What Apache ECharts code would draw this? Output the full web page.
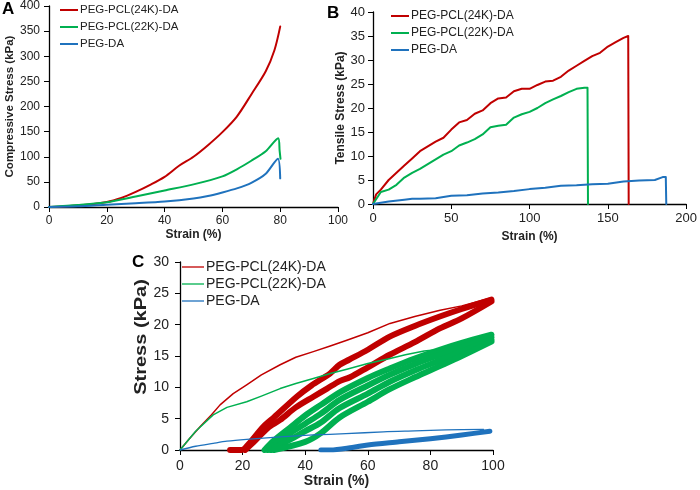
<!DOCTYPE html>
<html>
<head>
<meta charset="utf-8">
<script src="https://cdn.jsdelivr.net/npm/echarts@6/dist/echarts.min.js"></script>
<style>html,body{margin:0;padding:0;background:#fff;}#c{width:700px;height:490px;}</style>
</head>
<body>
<div id="c"></div>
<script>
// ---- Names ----
const names = ['PEG-PCL(24K)-DA', 'PEG-PCL(22K)-DA', 'PEG-DA'];
const colors = ['#C00000', '#00B050', '#1F72BD'];

// ---- Panel A: compressive stress (kPa) vs strain (%) ----
const aRed = [[0,0],[10,3],[20,10],[25,18],[30,30],[35,44],[40,60],[45,82],[50,100],[55,123],[60,149],[65,180],[70,224],[75,270],[78,312],[80,359]];
const aGreen = [[0,0],[10,4],[20,9.5],[30,21],[40,33],[50,45],[60,61],[65,75],[70,92],[75,111],[79.3,137],[79.8,112],[80.1,96]];
const aBlue = [[0,0],[10,1.5],[20,4.6],[30,7.5],[40,11],[50,17],[55,22],[60,29],[65,37],[70,48],[75,66],[79.2,96],[80,57]];

// ---- Panel B: tensile stress (kPa) vs strain (%) ----
const bRed = [[0,0],[2,2],[5,3],[10,5],[15,6.5],[20,8],[25,9.5],[30,11],[35,12],[40,13],[45,13.8],[50,15.5],[55,17],[60,17.5],[65,18.8],[70,19.5],[75,21],[80,22],[85,22.2],[90,23.5],[95,24],[100,24],[105,24.8],[110,25.5],[115,25.7],[120,26.5],[125,27.8],[130,28.8],[135,29.8],[140,30.8],[145,31.5],[150,32.8],[155,33.7],[160,34.6],[163,35],[163.3,0]];
const bGreen = [[0,0],[5,2.5],[10,3],[15,4],[20,5.5],[25,6.5],[30,7.3],[35,8.3],[40,9.3],[45,10.3],[50,11],[55,12.2],[60,12.8],[65,13.5],[70,14.5],[75,16],[80,16.3],[85,16.5],[90,18],[95,18.7],[100,19.2],[105,20],[110,21],[115,21.8],[120,22.5],[125,23.3],[130,24],[135,24.2],[137,24.2],[137.3,0]];
const bBlue = [[0,0],[10,0.5],[20,0.9],[25,1.1],[30,1.1],[40,1.2],[50,1.7],[60,1.8],[70,2.2],[80,2.4],[90,2.7],[100,3.1],[110,3.4],[120,3.8],[130,3.9],[140,4.1],[150,4.2],[160,4.7],[170,4.9],[180,5.0],[185,5.6],[187,5.6],[187.3,0]];

// ---- Panel C: cyclic stress (kPa) vs strain (%) ----
const cRedFirst = [[0,0],[3,1.8],[6.4,3.7],[10,5.6],[12.8,7.2],[17,9],[21.3,10.4],[26,12],[32,13.6],[37,14.8],[42.6,15.7],[48,16.6],[53.3,17.5],[60,18.7],[67.1,20.2],[75,21.3],[83.1,22.3],[90,23],[99,24.2]];
const cGreenFirst = [[0,0],[5,3],[10.6,5.6],[15,6.8],[21.3,7.7],[26,8.6],[32,9.8],[37,10.6],[42.6,11.4],[48,12.2],[53.3,12.9],[60,13.8],[67.1,14.6],[72,15.2],[78,15.8],[82,16]];
const cBlueFirst = [[0,0],[5,0.6],[10.6,1.06],[15,1.4],[21.3,1.7],[32,2.1],[42.6,2.4],[53,2.6],[65,2.9],[75,3.05],[85,3.2],[97,3.3]];
const cRedCycleUpper = [[16,0],[19.7,0],[22,1],[26.6,3.7],[30,5.2],[37.3,8.5],[42,10.3],[47.9,12.2],[51,13.6],[54,14.4],[60,16],[67,18.1],[75,19.8],[83,21.3],[90,22.5],[99.5,24]];
const cRedCycleLower = [[20.8,0],[24,1.5],[28,3.5],[32,4.8],[37,6.8],[42.6,8.5],[47,9.8],[51,11],[54.3,11.6],[60,13.2],[67,15.2],[75,17.2],[83,19.4],[90,21],[99.5,23.7]];
const cGreenCycle1 = [[27,0],[30,1.5],[35,3.5],[40,5.5],[45,7.2],[51,9.2],[60,11.5],[67,13],[75,14.6],[83,16],[90,17.1],[99.5,18.4]];
const cGreenCycle2 = [[28,0],[35,2.6],[40,4.2],[45,5.8],[51,8],[60,10.3],[67,12],[75,13.7],[83,15.2],[90,16.4],[99.5,18]];
const cGreenCycle3 = [[29,0],[35,1.6],[40,3],[45,4.4],[51,6.7],[60,9],[67,10.9],[75,12.7],[83,14.3],[90,15.7],[99.5,17.6]];
const cGreenCycle4 = [[30,0],[40,1.3],[45,2.7],[51,5.2],[60,7.7],[67,9.7],[75,11.6],[83,13.4],[90,15],[99.5,17.3]];
const cBlueCycle = [[45,0],[48,0],[55,0.4],[60,0.8],[70,1.3],[80,1.8],[90,2.4],[99,3]];

const FONT = 'Liberation Sans, Arial, sans-serif';

function ln(name, idx, data, color, width, smooth, z) {
  return {
    type: 'line', name: name, xAxisIndex: idx, yAxisIndex: idx, data: data,
    showSymbol: false, symbol: 'none', smooth: smooth, z: z || 2,
    lineStyle: { color: color, width: width, join: 'round', cap: 'round' },
    itemStyle: { color: color },
    emphasis: { disabled: true }
  };
}

function xAx(idx, min, max, interval, fs, nameFs, nameGap, labMargin) {
  return {
    type: 'value', gridIndex: idx, min: min, max: max, interval: interval,
    name: 'Strain (%)', nameLocation: 'middle', nameGap: nameGap,
    nameTextStyle: { fontFamily: FONT, fontWeight: 'bold', fontSize: nameFs, color: '#222' },
    axisLine: { show: true, onZero: false, lineStyle: { color: '#000', width: 1.3 } },
    axisTick: { show: true, inside: false, length: 5, lineStyle: { color: '#000' } },
    axisLabel: { fontFamily: FONT, fontSize: fs, color: '#222', margin: labMargin },
    splitLine: { show: false }
  };
}
function yAx(idx, min, max, interval, name, fs, nameFs, nameGap, labMargin) {
  return {
    type: 'value', gridIndex: idx, min: min, max: max, interval: interval,
    name: name, nameLocation: 'middle', nameGap: nameGap,
    nameTextStyle: { fontFamily: FONT, fontWeight: 'bold', fontSize: nameFs, color: '#222' },
    axisLine: { show: true, onZero: false, lineStyle: { color: '#000', width: 1.3 } },
    axisTick: { show: true, inside: false, length: 5, lineStyle: { color: '#000' } },
    axisLabel: { fontFamily: FONT, fontSize: fs, color: '#222', margin: labMargin },
    splitLine: { show: false }
  };
}
function legend(left, top, fs, gap, iw, ih) {
  return {
    orient: 'vertical', left: left, top: top, padding: 0,
    itemWidth: iw, itemHeight: ih, itemGap: gap, icon: 'rect',
    textStyle: { fontFamily: FONT, fontSize: fs, color: '#222', padding: [0, 0, 0, -3] },
    data: names.map((n, i) => ({ name: n, itemStyle: { color: colors[i] } })),
    selectedMode: false
  };
}

const series = [
  ln(names[0], 0, aRed, colors[0], 2, 0.3),
  ln(names[1], 0, aGreen, colors[1], 2, 0.25),
  ln(names[2], 0, aBlue, colors[2], 2, 0.25),
  ln(names[0], 1, bRed, colors[0], 2, false),
  ln(names[1], 1, bGreen, colors[1], 2, false),
  ln(names[2], 1, bBlue, colors[2], 2, false),
  ln(names[0], 2, cRedCycleUpper, colors[0], 6, 0.3, 2),
  ln(names[0], 2, cRedCycleLower, colors[0], 6, 0.3, 2),
  ln(names[1], 2, cGreenCycle1, colors[1], 6, 0.3, 2),
  ln(names[1], 2, cGreenCycle2, colors[1], 6, 0.3, 2),
  ln(names[1], 2, cGreenCycle3, colors[1], 6, 0.3, 2),
  ln(names[1], 2, cGreenCycle4, colors[1], 6, 0.3, 2),
  ln(names[2], 2, cBlueCycle, colors[2], 5, 0.3, 2),
  ln(names[0], 2, cRedFirst, colors[0], 1.5, false, 3),
  ln(names[1], 2, cGreenFirst, colors[1], 1.5, false, 3),
  ln(names[2], 2, cBlueFirst, colors[2], 1.3, 0.3, 3)
];

const chart = echarts.init(document.getElementById('c'), null, { renderer: 'canvas' });
chart.setOption({
  animation: false,
  backgroundColor: '#fff',
  grid: [
    { left: 49, top: 6, width: 289, height: 201 },
    { left: 373, top: 12, width: 317, height: 192 },
    { left: 180, top: 262, width: 313, height: 188 }
  ],
  xAxis: [
    xAx(0, 0, 100, 20, 12, 12, 22, 8),
    xAx(1, 0, 200, 50, 13, 12, 27, 8),
    xAx(2, 0, 100, 20, 14, 14, 23, 9)
  ],
  yAxis: [
    yAx(0, 0, 400, 50, 'Compressive Stress (kPa)', 12, 11.5, 29, 9),
    yAx(1, 0, 40, 5, 'Tensile Stress (kPa)', 13, 12, 26, 8),
    Object.assign(yAx(2, 0, 30, 5, '', 14, 14, 30, 11), { name: '' })
  ],
  legend: [
    legend(60, 4, 11.5, 5, 18, 2),
    legend(391, 10, 12, 5, 18, 2),
    legend(182, 260, 14, 3, 22, 1.3)
  ],
  graphic: [
    { type: 'text', left: 2, top: 1, style: { text: 'A', fontFamily: FONT, fontWeight: 'bold', fontSize: 17, fill: '#000' } },
    { type: 'text', left: 327, top: 5, style: { text: 'B', fontFamily: FONT, fontWeight: 'bold', fontSize: 17, fill: '#000' } },
    { type: 'text', left: 132, top: 254, style: { text: 'C', fontFamily: FONT, fontWeight: 'bold', fontSize: 17, fill: '#000' } },
    { type: 'text', x: 142, y: 337, rotation: Math.PI / 2, scaleX: 1.25,
      style: { text: 'Stress (kPa)', fontFamily: FONT, fontWeight: 'bold', fontSize: 16, fill: '#222', align: 'center', verticalAlign: 'middle' } }
  ],
  series: series
});
</script>
</body>
</html>
